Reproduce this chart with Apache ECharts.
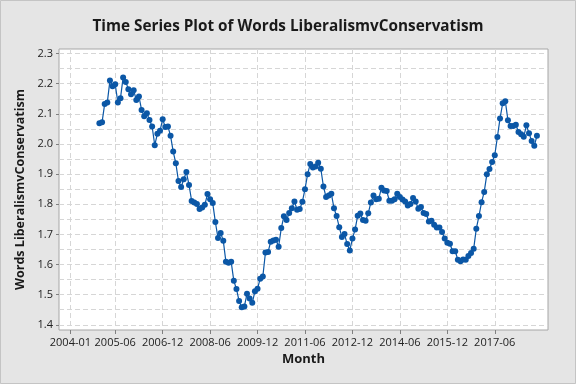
<!DOCTYPE html>
<html><head><meta charset="utf-8">
<script src="https://cdn.jsdelivr.net/npm/echarts@6/dist/echarts.min.js"></script>
<style>html,body{margin:0;padding:0;background:#e5e5e5;}#c{width:576px;height:384px;}</style>
</head><body><div id="c"></div><script>
// Monthly series, first observation 2004-12
const firstMonth = '2004-12';
const wordsRatio = [
  2.069, 2.072, 2.133, 2.138, 2.211, 2.192, 2.198, 2.138, 2.152, 2.221,
  2.206, 2.182, 2.165, 2.178, 2.146, 2.158, 2.113, 2.092, 2.102, 2.080,
  2.058, 1.996, 2.034, 2.044, 2.082, 2.056, 2.058, 2.027, 1.975,
  1.936, 1.877, 1.857, 1.883, 1.907, 1.864, 1.811, 1.806, 1.801, 1.784,
  1.789, 1.798, 1.834, 1.817, 1.804, 1.741, 1.688, 1.705, 1.679, 1.609,
  1.606, 1.609, 1.546, 1.519, 1.479, 1.458, 1.461, 1.503,
  1.487, 1.473, 1.511, 1.520, 1.553, 1.560, 1.640, 1.642, 1.676, 1.680,
  1.682, 1.659, 1.721, 1.760, 1.748, 1.771, 1.787, 1.809, 1.782, 1.784,
  1.808, 1.850, 1.900, 1.934, 1.922, 1.925, 1.938, 1.918, 1.859,
  1.824, 1.829, 1.835, 1.787, 1.761, 1.724, 1.691, 1.701, 1.668, 1.647,
  1.686, 1.716, 1.762, 1.769, 1.748, 1.745, 1.770, 1.806, 1.829, 1.817,
  1.818, 1.855, 1.846, 1.844, 1.812, 1.812, 1.817, 1.835,
  1.824, 1.816, 1.809, 1.796, 1.801, 1.821, 1.809, 1.785, 1.791, 1.771,
  1.768, 1.743, 1.745, 1.732, 1.723, 1.723, 1.708, 1.686, 1.672, 1.669,
  1.644, 1.644, 1.616, 1.611, 1.617, 1.616, 1.628, 1.638, 1.652,
  1.719, 1.761, 1.807, 1.841, 1.900, 1.917, 1.940, 1.963, 2.023, 2.085,
  2.135, 2.142, 2.079, 2.060, 2.060, 2.064, 2.040, 2.032, 2.024, 2.062,
  2.036, 2.010, 1.994, 2.027
];
const xTickLabels = ['2004-01','2005-06','2006-12','2008-06','2009-12','2011-06','2012-12','2014-06','2015-12','2017-06'];
const yTickLabels = ['1.4','1.5','1.6','1.7','1.8','1.9','2.0','2.1','2.2','2.3'];
const yGridValues = [1.4,1.45,1.5,1.55,1.6,1.65,1.7,1.75,1.8,1.85,1.9,1.95,2.0,2.05,2.1,2.15,2.2,2.25,2.3];

const baseYear = 2004;
function monthIndex(s){ const p = s.split('-').map(Number); return (p[0]-baseYear)*12 + p[1]-1; }
const x0 = monthIndex(firstMonth);
const seriesData = wordsRatio.map((v,i)=>[x0+i, v]);
const xTickValues = xTickLabels.map(monthIndex);
const xLabelMap = {}; xTickLabels.forEach(l=>{ xLabelMap[monthIndex(l)] = l; });
const yTickValues = yTickLabels.map(Number);

const FONT = 'Open Sans';
const gridLine = {show:true, lineStyle:{type:[5,3], color:'#d6d6d6', width:1}};
const yMin = 1.3828, yMax = 2.3152;

const chart = echarts.init(document.getElementById('c'), null, {renderer:'canvas'});
chart.setOption({
  animation:false,
  backgroundColor:'#e5e5e5',
  title:{text:'Time Series Plot of Words LiberalismvConservatism', left:'center', top:14,
    textStyle:{fontFamily:FONT, fontSize:15.3, fontWeight:'bold', color:'#1a1a1a'}},
  graphic:[{type:'rect', shape:{x:0.5,y:0.5,width:575,height:383}, style:{fill:null, stroke:'#c4c4c4', lineWidth:1}, silent:true}],
  grid:{left:59, right:28, top:49, bottom:54, show:true, backgroundColor:'#ffffff', borderColor:'#a6a6a6', borderWidth:1},
  xAxis:{type:'value', min:-4.33, max:181.2,
    name:'Month', nameLocation:'middle', nameGap:22,
    nameTextStyle:{fontFamily:FONT, fontSize:13, fontWeight:'bold', color:'#1a1a1a'},
    axisLine:{show:false},
    axisTick:{customValues:xTickValues, length:4, lineStyle:{color:'#808080'}},
    axisLabel:{customValues:xTickValues, formatter:v=>xLabelMap[Math.round(v)]||'', margin:7,
      fontFamily:FONT, fontSize:11, color:'#222'},
    splitLine:gridLine},
  yAxis:[
    {type:'value', min:yMin, max:yMax, position:'left',
      axisLine:{show:false}, axisTick:{show:false, customValues:yGridValues},
      axisLabel:{show:false}, splitLine:gridLine},
    {type:'value', min:yMin, max:yMax, position:'left',
      name:'Words LiberalismvConservatism', nameLocation:'middle', nameGap:23,
      nameTextStyle:{fontFamily:FONT, fontSize:12.5, fontWeight:'bold', color:'#1a1a1a'},
      axisLine:{show:false},
      axisTick:{customValues:yTickValues, length:3, lineStyle:{color:'#808080'}},
      axisLabel:{customValues:yTickValues, formatter:v=>v.toFixed(1), margin:6,
        fontFamily:FONT, fontSize:11, color:'#222'},
      splitLine:{show:false}}
  ],
  series:[{type:'line', yAxisIndex:0, data:seriesData, symbol:'circle', symbolSize:6,
    lineStyle:{width:1.2, color:'#0b57a6'}, itemStyle:{color:'#0b57a6'}}]
});
</script></body></html>
